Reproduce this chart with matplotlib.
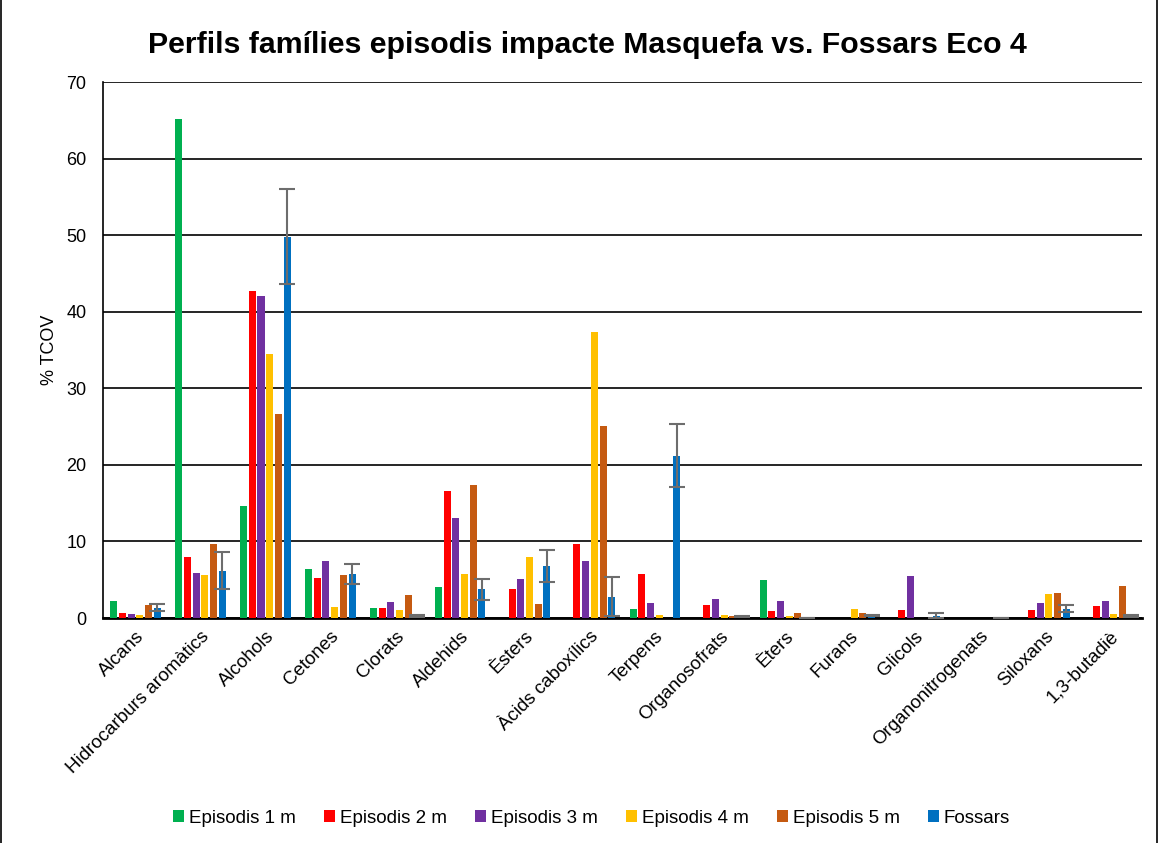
import matplotlib

matplotlib.use("Agg")
import matplotlib.pyplot as plt
import numpy as np
from matplotlib.patches import Rectangle

plt.rcParams["font.family"] = ["Liberation Sans", "DejaVu Sans"]

categories = ["Alcans", "Hidrocarburs aromàtics", "Alcohols", "Cetones", "Clorats",
              "Aldehids", "Èsters", "Àcids caboxílics", "Terpens", "Organosofrats",
              "Èters", "Furans", "Glicols", "Organonitrogenats", "Siloxans", "1,3-butadiè"]
series_names = ["Episodis 1 m", "Episodis 2 m", "Episodis 3 m", "Episodis 4 m",
                "Episodis 5 m", "Fossars"]

ep1 = [2.2, 65.2, 14.6, 6.4, 1.3, 4.0, 0.0, 0.0, 1.2, 0.0, 4.9, 0.0, 0.0, 0.0, 0.0, 0.0]
ep2 = [0.65, 8.0, 42.7, 5.2, 1.3, 16.6, 3.8, 9.6, 5.7, 1.65, 0.9, 0.0, 1.0, 0.0, 1.0, 1.55]
ep3 = [0.5, 5.9, 42.0, 7.4, 2.05, 13.1, 5.1, 7.5, 2.0, 2.5, 2.2, 0.0, 5.5, 0.0, 1.95, 2.2]
ep4 = [0.4, 5.6, 34.5, 1.4, 1.0, 5.75, 8.0, 37.3, 0.4, 0.4, 0.2, 1.2, 0.0, 0.0, 3.1, 0.5]
ep5 = [1.65, 9.7, 26.7, 5.6, 3.05, 17.4, 1.8, 25.1, 0.0, 0.25, 0.6, 0.6, 0.0, 0.0, 3.3, 4.2]
fossars = [1.35, 6.2, 49.8, 5.7, 0.3, 3.75, 6.8, 2.8, 21.2, 0.2, 0.0, 0.3, 0.3, 0.0, 1.2, 0.3]
fossars_err = [0.5, 2.4, 6.2, 1.3, 0.15, 1.4, 2.1, 2.5, 4.1, 0.1, 0.0, 0.1, 0.3, 0.0, 0.45, 0.15]

colors = ["#00B050", "#FF0000", "#7030A0", "#FFC000", "#C55A11", "#0070C0"]


def main():
    fig = plt.figure(figsize=(11.6, 8.43), dpi=100)
    ax = fig.add_axes([0.0888, 0.2669, 0.8957, 0.6358])

    x = np.arange(len(categories))
    slot = 0.134
    width = 0.108
    all_series = [ep1, ep2, ep3, ep4, ep5, fossars]
    for i, (vals, name, col) in enumerate(zip(all_series, series_names, colors)):
        offs = (i - 2.5) * slot
        if name == "Fossars":
            ax.bar(x + offs, vals, width, color=col, label=name, zorder=3,
                   yerr=fossars_err, ecolor="#6d6d6d",
                   error_kw={"elinewidth": 1.5, "capsize": 6, "capthick": 1.5, "zorder": 4})
        else:
            ax.bar(x + offs, vals, width, color=col, label=name, zorder=3)

    ax.set_xlim(-0.5, len(categories) - 0.5)
    ax.set_ylim(0, 70)
    ax.set_yticks(range(0, 71, 10))
    ax.yaxis.grid(True, color="black", linewidth=1.2, zorder=0)
    ax.set_axisbelow(True)
    for side in ["top", "right"]:
        ax.spines[side].set_visible(False)
    ax.spines["left"].set_linewidth(1.2)
    ax.spines["bottom"].set_linewidth(2)
    ax.tick_params(axis="both", length=0, labelsize=13)
    ax.tick_params(axis="y", pad=12)
    ax.tick_params(axis="x", pad=7)
    ax.set_xticks(x)
    ax.set_xticklabels(categories, rotation=45, ha="right", rotation_mode="anchor", fontsize=13.5)
    ax.set_ylabel("% TCOV", fontsize=13, labelpad=6)

    fig.text(0.506, 0.947, "Perfils famílies episodis impacte Masquefa vs. Fossars Eco 4",
             fontsize=21.8, fontweight="bold", ha="center", va="center")

    fig.legend(loc="center", bbox_to_anchor=(0.51, 0.029), ncol=6, frameon=False,
               fontsize=13.5, handlelength=0.6, handleheight=0.6, handletextpad=0.25,
               columnspacing=1.5)

    fig.patches.append(Rectangle((0.0005, -0.01), 0.997, 1.02, transform=fig.transFigure,
                                 fill=False, edgecolor="black", linewidth=1.2))

    fig.savefig("out.png", dpi=100)
    plt.close(fig)


if __name__ == "__main__":
    main()
